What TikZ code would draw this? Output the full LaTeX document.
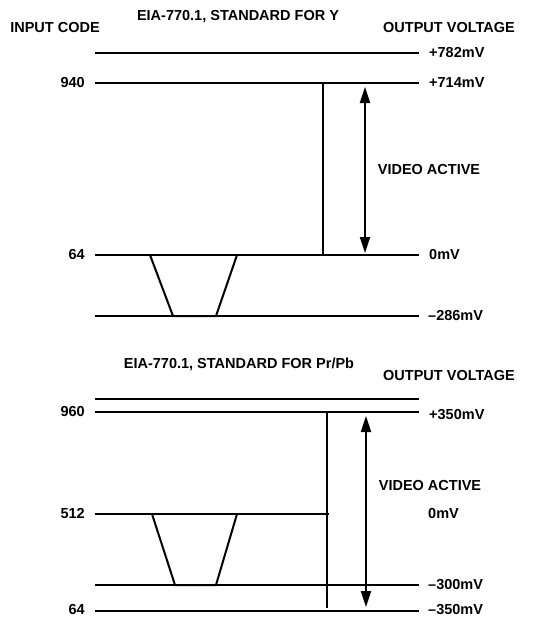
\documentclass[tikz,border=0pt]{standalone}
\usepackage{fontspec}
\setmainfont{Liberation Sans}
\usetikzlibrary{arrows.meta,positioning}

\begin{document}
\begin{tikzpicture}[x=1pt, y=-1pt,
  every node/.style={font=\bfseries\fontsize{14.5}{16}\selectfont, inner sep=0pt},
  level/.style={line width=2pt},
  arrow/.style={{Triangle[length=16pt,width=10pt]}-{Triangle[length=16pt,width=10pt]}, line width=2pt}
]
\useasboundingbox (0,0) rectangle (555,618);

% Y channel
\node (titleY) at (238,17) {EIA-770.1, STANDARD FOR Y};
\node (incode) at (55,28) {INPUT CODE};
\node[anchor=west] (outY) at (383,28) {OUTPUT VOLTAGE};

\draw[level] (95,53) -- (419,53);
\draw[level] (95,83) -- (419,83);
\draw[level] (95,255) -- (419,255);
\draw[level] (95,316) -- (419,316);

\node[anchor=east] (c940) at (85,83) {940};
\node[anchor=east] (c64) at (85,255) {64};
\node[anchor=west] (v782) at (429,53) {+782mV};
\node[anchor=west] (v714) at (429,83) {+714mV};
\node[anchor=west] (v0) at (429,255) {0mV};
\node[anchor=west] (v286) at (428,316) {–286mV};

\draw[level] (323,83) -- (323,255);
\draw[level] (150,255) -- (173,316) -- (216,316) -- (237,255);

\coordinate (actYtop) at (365,87);
\coordinate (actYbot) at (365,253);
\draw[arrow] (actYtop) -- (actYbot);
\node (actY) at (429,170) {VIDEO ACTIVE};

% Pr/Pb channel
\node (titleP) at (239,364) {EIA-770.1, STANDARD FOR Pr/Pb};
\node[anchor=west] (outP) at (383,376) {OUTPUT VOLTAGE};

\draw[level] (95,399) -- (419,399);
\draw[level] (95,412) -- (419,412);
\draw[level] (95,514) -- (329,514);
\draw[level] (95,585) -- (419,585);
\draw[level] (95,611) -- (419,611);

\node[anchor=east] (c960) at (85,412) {960};
\node[anchor=east] (c512) at (85,514) {512};
\node[anchor=east] (c64b) at (85,610) {64};
\node[anchor=west] (v350) at (429,415) {+350mV};
\node[anchor=west] (v0b) at (428,514) {0mV};
\node[anchor=west] (v300) at (428,585) {–300mV};
\node[anchor=west] (v350b) at (428,610) {–350mV};

\draw[level] (327,412) -- (327,608);
\draw[level] (152,514) -- (175,585) -- (216,585) -- (237,514);

\coordinate (actPtop) at (366,416);
\coordinate (actPbot) at (366,607);
\draw[arrow] (actPtop) -- (actPbot);
\node (actP) at (430,486) {VIDEO ACTIVE};
\end{tikzpicture}
\end{document}
